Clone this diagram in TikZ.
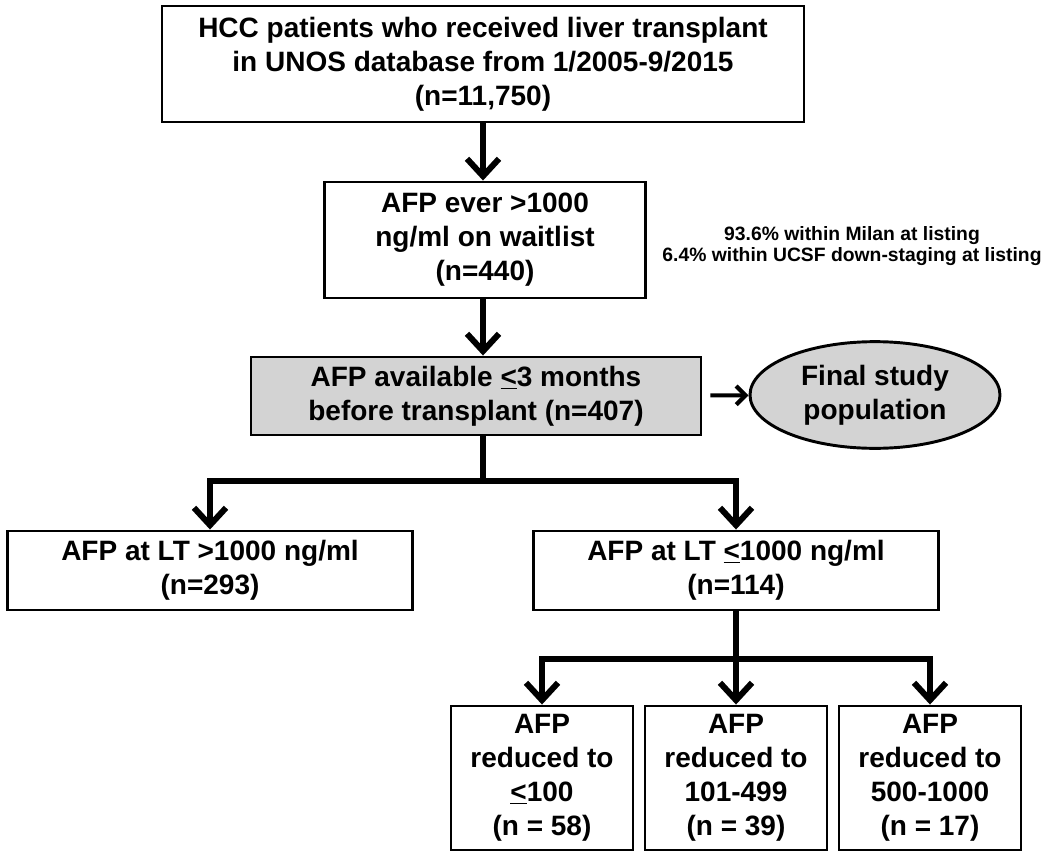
\documentclass[tikz,border=0pt]{standalone}
\usepackage{fontspec}
\setmainfont{Liberation Sans}
\usetikzlibrary{arrows.meta,shapes.geometric}
\definecolor{boxgray}{RGB}{211,211,211}
\tikzset{
  box/.style={draw, line width=2.2pt, align=center, inner sep=0pt, font=\bfseries\fontsize{21}{25.5}\selectfont},
  graybox/.style={box, fill=boxgray},
  arr/.style={line width=4pt, line join=miter, -{Straight Barb[length=13pt,width=24pt,line width=4.5pt]}},
  smallarr/.style={line width=3pt, -{Straight Barb[length=7pt,width=14pt,line width=3.2pt]}}
}
\begin{document}
\begin{tikzpicture}[x=0.75pt,y=0.75pt,yscale=-1,xscale=1]
\useasboundingbox (0,0) rectangle (1050,860);
% Boxes
\node[box, minimum width=481.5pt, minimum height=87pt] (hcc) at (483,64)
  {HCC patients who received liver transplant\\ in UNOS database from 1/2005-9/2015\\ (n=11,750)};
\node[box, minimum width=240.75pt, minimum height=87pt] (ever) at (485,240)
  {AFP ever >1000\\ ng/ml on waitlist\\ (n=440)};
\node[graybox, minimum width=337.5pt, minimum height=58.5pt] (avail) at (476,396)
  {AFP available \underline{<}3 months\\ before transplant (n=407)};
\node[graybox, ellipse, minimum width=187.5pt, minimum height=80pt] (final) at (875,395)
  {Final study\\ population};
% Text Node
\node[font=\bfseries\fontsize{14.5}{16}\selectfont, align=center] (listing) at (852,246)
  {93.6\% within Milan at listing\\ 6.4\% within UCSF down-staging at listing};
\node[box, minimum width=303.75pt, minimum height=59.25pt] (high) at (210,570.5)
  {AFP at LT >1000 ng/ml\\ (n=293)};
\node[box, minimum width=303.75pt, minimum height=59.25pt] (low) at (736,570.5)
  {AFP at LT \underline{<}1000 ng/ml\\ (n=114)};
\node[box, minimum width=136.5pt, minimum height=108pt] (lo1) at (542,778)
  {AFP\\ reduced to\\ \underline{<}100\\ (n = 58)};
\node[box, minimum width=136.5pt, minimum height=108pt] (lo2) at (736,778)
  {AFP\\ reduced to\\ 101-499\\ (n = 39)};
\node[box, minimum width=136.5pt, minimum height=108pt] (lo3) at (930,778)
  {AFP\\ reduced to\\ 500-1000\\ (n = 17)};
% Branch points
\coordinate (split1) at (0,481);
\coordinate (split2) at (0,659);
% Connectors
\draw[arr] (hcc.south) -- (hcc.south |- ever.north);
\draw[arr] (hcc.south |- ever.south) -- (hcc.south |- avail.north);
\draw[smallarr, shorten <=6pt] (avail) -- (final);
\draw[arr] (hcc.south |- avail.south) |- (high.north |- split1) -- (high.north);
\draw[arr] (hcc.south |- avail.south) |- (low.north |- split1) -- (low.north);
\draw[arr] (low.south) |- (lo1.north |- split2) -- (lo1.north);
\draw[arr] (low.south) -- (lo2.north);
\draw[arr] (low.south) |- (lo3.north |- split2) -- (lo3.north);
\end{tikzpicture}
\end{document}
